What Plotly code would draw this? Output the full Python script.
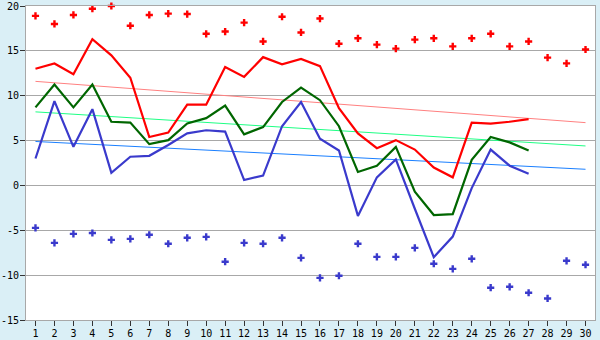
import plotly.graph_objects as go

days = list(range(1, 31))
line_days = list(range(1, 28))

# Daily extremes (scatter markers)
max_points = [18.9, 18.0, 19.0, 19.7, 20.0, 17.8, 19.0, 19.15, 19.1, 16.9,
              17.15, 18.15, 16.05, 18.8, 17.05, 18.6, 15.8, 16.4, 15.7, 15.25,
              16.25, 16.4, 15.5, 16.4, 16.9, 15.5, 16.05, 14.25, 13.6, 15.15]
min_points = [-4.73, -6.4, -5.4, -5.3, -6.07, -5.96, -5.5, -6.5, -5.84, -5.73,
              -8.5, -6.4, -6.5, -5.84, -8.07, -10.3, -10.07, -6.5, -7.96, -7.96,
              -6.96, -8.73, -9.3, -8.18, -11.4, -11.3, -11.96, -12.6, -8.4, -8.84]

# Daily series (lines)
high_line = [13.0, 13.6, 12.4, 16.3, 14.5, 12.0, 5.4, 5.9, 9.0, 9.0,
             13.2, 12.1, 14.3, 13.5, 14.1, 13.3, 8.6, 5.8, 4.15, 5.05,
             4.0, 2.0, 0.9, 7.0, 6.9, 7.1, 7.4]
mean_line = [8.7, 11.25, 8.7, 11.25, 7.1, 7.0, 4.6, 5.05, 6.9, 7.5,
             8.9, 5.7, 6.5, 9.3, 10.9, 9.5, 6.6, 1.5, 2.2, 4.3,
             -0.7, -3.3, -3.2, 2.85, 5.4, 4.8, 3.9]
low_line = [3.0, 9.4, 4.3, 8.5, 1.4, 3.2, 3.3, 4.5, 5.8, 6.15,
            6.0, 0.6, 1.1, 6.6, 9.3, 5.2, 3.9, -3.4, 0.9, 2.9,
            -2.6, -8.0, -5.7, -0.3, 4.0, 2.2, 1.3]

# Trend lines (endpoints at day 1 and day 30)
trend_days = [1, 30]
high_trend = [11.6, 7.0]
mean_trend = [8.2, 4.4]
low_trend = [4.9, 1.8]

y_ticks = [-15, -10, -5, 0, 5, 10, 15, 20]

fig = go.Figure()

for vals, col in [(high_trend, "#ff8080"), (mean_trend, "#1eff84"), (low_trend, "#1a7fff")]:
    fig.add_trace(go.Scatter(x=trend_days, y=vals, mode="lines",
                             line=dict(color=col, width=1), hoverinfo="skip"))

for vals, col in [(high_line, "#ff0000"), (mean_line, "#006600"), (low_line, "#3a3acc")]:
    fig.add_trace(go.Scatter(x=line_days, y=vals, mode="lines",
                             line=dict(color=col, width=2.2), hoverinfo="skip"))

for vals, col in [(max_points, "#ff0000"), (min_points, "#3a3acc")]:
    fig.add_trace(go.Scatter(x=days, y=vals, mode="markers", cliponaxis=False,
                             marker=dict(symbol="cross", size=6, color=col,
                                         line=dict(width=0)),
                             hoverinfo="skip"))

font = dict(family="DejaVu Sans Mono", size=10, color="#000000")

fig.update_layout(
    width=600, height=340,
    margin=dict(l=26, r=5, t=6, b=20, autoexpand=False),
    paper_bgcolor="#daeff6",
    plot_bgcolor="#ffffff",
    showlegend=False,
    font=font,
    xaxis=dict(range=[0.5, 30.5], tickmode="array", tickvals=days,
               ticktext=[str(d) for d in days], showgrid=False, zeroline=False,
               ticks="outside", ticklen=5, tickcolor="#333333",
               showline=True, linecolor="#a8a8a8", linewidth=1, mirror=True,
               tickfont=font, ticklabeloverflow="allow", automargin=False,
               ticklabelstandoff=-1),
    yaxis=dict(range=[-15, 20], tickmode="array", tickvals=y_ticks,
               ticktext=[str(v) for v in y_ticks], showgrid=True,
               gridcolor="#a8a8a8", gridwidth=1, zeroline=False,
               ticks="outside", ticklen=5, tickcolor="#333333",
               showline=True, linecolor="#a8a8a8", linewidth=1, mirror=True,
               tickfont=font, ticklabeloverflow="allow", automargin=False,
               ticklabelstandoff=-1),
)

fig.write_html("out.html")
